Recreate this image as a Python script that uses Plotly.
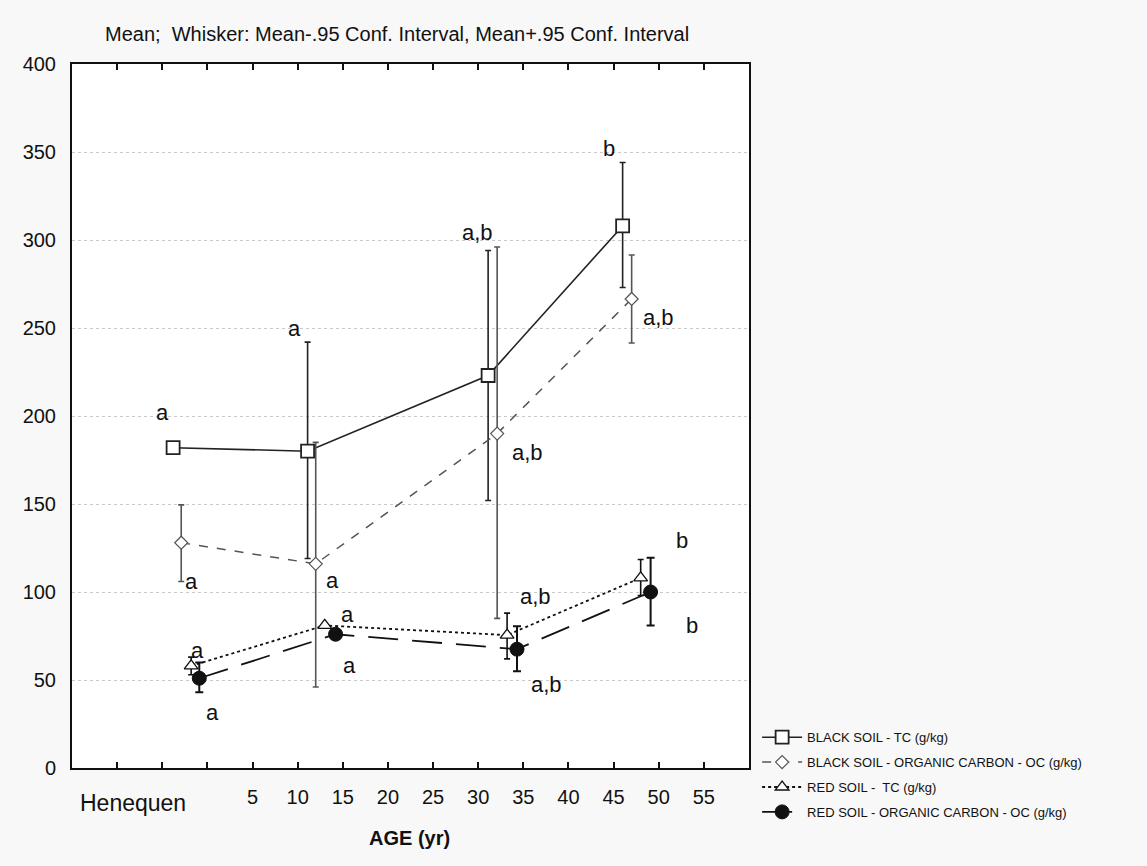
import plotly.graph_objects as go

# ---- data ----
series_names = [
    "BLACK SOIL - TC (g/kg)",
    "BLACK SOIL - ORGANIC CARBON - OC (g/kg)",
    "RED SOIL -  TC (g/kg)",
    "RED SOIL - ORGANIC CARBON - OC (g/kg)",
]
black_tc_x = [-3.8, 11.1, 31.1, 46.0]
black_tc_mean = [182, 180, 223, 308]
black_tc_upper = [182, 242, 294, 344]
black_tc_lower = [182, 119, 152, 273]

black_oc_x = [-2.9, 12.0, 32.1, 47.0]
black_oc_mean = [128, 116, 190, 266.5]
black_oc_upper = [149.5, 185, 296, 291.5]
black_oc_lower = [106, 46, 85, 241.5]

red_tc_x = [-1.8, 13.0, 33.2, 48.0]
red_tc_mean = [58, 81, 75.5, 108]
red_tc_upper = [63, 81, 88, 118.5]
red_tc_lower = [53, 81, 62, 98]

red_oc_x = [-0.9, 14.2, 34.3, 49.1]
red_oc_mean = [51, 76, 67.5, 100]
red_oc_upper = [60, 76, 80.5, 119.5]
red_oc_lower = [43, 76, 55, 81]

x_tick_vals = list(range(-15, 61, 5))
x_tick_text = ["" if (v <= 0 or v >= 60) else str(v) for v in x_tick_vals]
y_tick_vals = [0, 50, 100, 150, 200, 250, 300, 350, 400]

letters = ["a", "a", "a,b", "b",
           "a", "a", "a,b", "a,b",
           "a", "a", "a,b", "b",
           "a", "a", "a,b", "b"]
letter_x = [-5.0, 9.6, 29.9, 44.5,
            -1.8, 13.9, 35.5, 50.0,
            -1.15, 15.5, 36.4, 52.6,
            0.6, 15.7, 37.6, 53.7]
letter_y = [202, 250, 304.5, 352,
            105.7, 106.3, 179, 255.7,
            66.5, 87.5, 97.2, 129,
            31.8, 58.5, 47.7, 80.7]

FONT = "Liberation Sans, Arial, sans-serif"


def err(mean, up, lo):
    return dict(type="data", symmetric=False,
                array=[u - m for u, m in zip(up, mean)],
                arrayminus=[m - l for m, l in zip(mean, lo)])


fig = go.Figure()

fig.add_trace(go.Scatter(
    x=black_tc_x, y=black_tc_mean, name=series_names[0], mode="lines+markers",
    line=dict(color="#222222", width=1.6, dash="solid"),
    marker=dict(symbol="square", size=13, color="white", line=dict(color="#222222", width=1.8)),
    error_y=dict(**err(black_tc_mean, black_tc_upper, black_tc_lower),
                 color="#222222", thickness=1.6, width=3),
    legendgroup="g1",
))
fig.add_trace(go.Scatter(
    x=black_oc_x, y=black_oc_mean, name=series_names[1], mode="lines+markers",
    line=dict(color="#555555", width=1.5, dash="dash"),
    marker=dict(symbol="diamond", size=10, color="white", line=dict(color="#555555", width=1.2)),
    error_y=dict(**err(black_oc_mean, black_oc_upper, black_oc_lower),
                 color="#555555", thickness=1.6, width=3),
    legendgroup="g2",
))
fig.add_trace(go.Scatter(
    x=red_tc_x, y=red_tc_mean, name=series_names[2], mode="lines+markers",
    line=dict(color="#111111", width=1.8, dash="dot"),
    marker=dict(symbol="triangle-up", size=12, color="white", line=dict(color="#111111", width=1.3)),
    error_y=dict(**err(red_tc_mean, red_tc_upper, red_tc_lower),
                 color="#111111", thickness=1.6, width=3),
    legendgroup="g3",
))
fig.add_trace(go.Scatter(
    x=red_oc_x, y=red_oc_mean, name=series_names[3], mode="lines+markers",
    line=dict(color="#111111", width=1.8, dash="30px,14px"),
    marker=dict(symbol="circle", size=14, color="#111111", line=dict(color="#111111", width=1)),
    error_y=dict(**err(red_oc_mean, red_oc_upper, red_oc_lower),
                 color="#111111", thickness=2, width=4),
    legendgroup="g4",
))

annotations = []
for t, lx, ly in zip(letters, letter_x, letter_y):
    annotations.append(dict(x=lx, y=ly, xref="x", yref="y", text=t, showarrow=False,
                            font=dict(family=FONT, size=22, color="#111111")))
annotations.append(dict(x=-8.2, y=-0.05, xref="x", yref="paper", text="Henequen", showarrow=False,
                        yanchor="middle", font=dict(family=FONT, size=23, color="#111111")))
annotations.append(dict(x=0.499, y=-0.1, xref="paper", yref="paper", text="<b>AGE (yr)</b>", showarrow=False,
                        yanchor="middle", xanchor="center",
                        font=dict(family=FONT, size=20, color="#111111")))
annotations.append(dict(x=0.48, y=1.042, xref="paper", yref="paper",
                        text="Mean;  Whisker: Mean-.95 Conf. Interval, Mean+.95 Conf. Interval",
                        showarrow=False, xanchor="center", yanchor="middle",
                        font=dict(family=FONT, size=20, color="#111111")))

fig.update_layout(
    width=1147, height=866,
    margin=dict(l=72, r=398, t=64, b=98, pad=0),
    paper_bgcolor="#f8f8f8", plot_bgcolor="white",
    font=dict(family=FONT, size=14, color="#111111"),
    showlegend=True,
    legend=dict(x=1.012, y=0.065, xanchor="left", yanchor="top",
                bgcolor="rgba(0,0,0,0)", font=dict(size=13, color="#111111"),
                tracegroupgap=5, itemwidth=40),
    annotations=annotations,
    xaxis=dict(range=[-15, 60], tickvals=x_tick_vals, ticktext=x_tick_text,
               ticks="inside", ticklen=6, tickwidth=1.5, tickcolor="#111111",
               mirror="ticks", showline=True, linecolor="#111111", linewidth=2,
               showgrid=False, zeroline=False, tickfont=dict(size=20),
               ticklabelstandoff=10),
    yaxis=dict(range=[0, 400], tickvals=y_tick_vals, ticks="", showline=True,
               linecolor="#111111", linewidth=2, mirror=True,
               showgrid=True, gridcolor="#c8c8c8", griddash="dot", gridwidth=1,
               zeroline=False, tickfont=dict(size=20), ticklabelstandoff=10),
    yaxis2=dict(range=[0, 400], overlaying="y", side="right", tickvals=y_tick_vals,
                ticks="inside", ticklen=6, tickwidth=1.5, tickcolor="#111111",
                showticklabels=False, showgrid=False, zeroline=False, showline=False),
)

fig.write_html("out.html")
